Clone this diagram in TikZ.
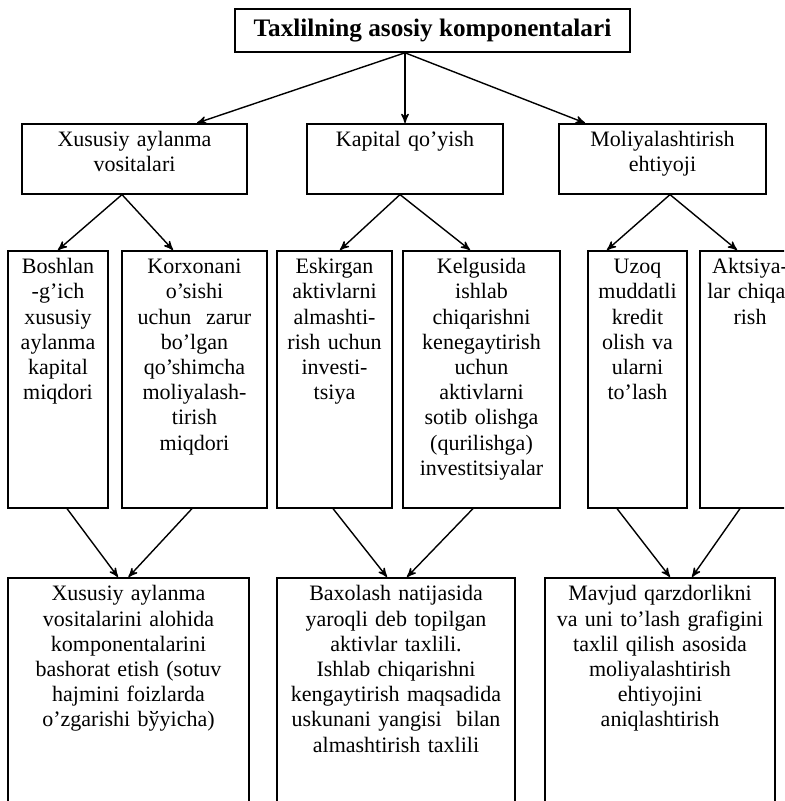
\documentclass[tikz,border=0pt]{standalone}
\usepackage{fontspec}
\setmainfont{Liberation Serif}
\usetikzlibrary{arrows}

\begin{document}
\begin{tikzpicture}[x=0.5pt,y=-0.5pt,->,>=stealth',line width=0.7pt,
	headnode/.style={rectangle,draw,line width=0.8pt,minimum width=197.5pt,minimum height=21.5pt,inner sep=2pt,font=\bfseries\fontsize{12.6}{14}\selectfont},
	boxnode/.style={rectangle,draw,line width=0.8pt,anchor=north,align=center,inner xsep=2pt,inner ysep=4pt,text height=7.5pt,font=\fontsize{11}{12.6}\selectfont},
	midnode/.style={boxnode,text depth=19.5pt},
	tallnode/.style={boxnode,text depth=113pt},
	lownode/.style={boxnode,text depth=126pt}]
	
	\useasboundingbox (0,0) rectangle (784,801);
	\clip (0,0) rectangle (784,801);
	
	\node [headnode] (0) at (432.5, 30.5) {Taxlilning asosiy komponentalari};
	
	\node [midnode, text width=108.5pt] (1) at (134.5, 123) {Xususiy aylanma\\ vositalari};
	\node [midnode, text width=94pt] (2) at (405, 123) {Kapital qo’yish};
	\node [midnode, text width=99.5pt] (3) at (662.5, 123) {Moliyalashtirish\\ ehtiyoji};
	
	\node [tallnode, text width=46pt] (4) at (58, 250) {Boshlan\\ -g’ich\\ xususiy\\ aylanma\\ kapital\\ miqdori};
	\node [tallnode, text width=68.5pt] (5) at (194.5, 250) {Korxonani\\ o’sishi\\ uchun~~zarur\\ bo’lgan\\ qo’shimcha\\ moliyalash-\\ tirish\\ miqdori};
	\node [tallnode, text width=53.5pt] (6) at (334.5, 250) {Eskirgan\\ aktivlarni\\ almashti-\\ rish uchun\\ investi-\\ tsiya};
	\node [tallnode, text width=74.5pt] (7) at (481.5, 250) {Kelgusida\\ ishlab\\ chiqarishni\\ kenegaytirish\\ uchun\\ aktivlarni\\ sotib olishga\\ (qurilishga)\\ investitsiyalar};
	\node [tallnode, text width=45.5pt] (8) at (637.5, 250) {Uzoq\\ muddatli\\ kredit\\ olish va\\ ularni\\ to’lash};
	\node [tallnode, text width=46pt] (9) at (750, 250) {Aktsiya-\\ lar chiqa-\\ rish};
	
	\node [lownode, text width=116.5pt] (10) at (128.5, 577) {Xususiy aylanma\\ vositalarini alohida\\ komponentalarini\\ bashorat etish (sotuv\\ hajmini foizlarda\\ o’zgarishi bўyicha)};
	\node [lownode, text width=115pt] (11) at (396, 577) {Baxolash natijasida\\ yaroqli deb topilgan\\ aktivlar taxlili.\\ Ishlab chiqarishni\\ kengaytirish maqsadida\\ uskunani yangisi~~bilan\\ almashtirish taxlili};
	\node [lownode, text width=111pt] (12) at (660, 577) {Mavjud qarzdorlikni\\ va uni to’lash grafigini\\ taxlil qilish asosida\\ moliyalashtirish\\ ehtiyojini\\ aniqlashtirish};
	
	\draw ([xshift=-13.75pt]0.south) to ([xshift=31.25pt]1.north);
	\draw ([xshift=-13.75pt]0.south) to (2.north);
	\draw ([xshift=-13.75pt]0.south) to ([xshift=-38.75pt]3.north);
	
	\draw ([xshift=-6.25pt]1.south) to (4.north);
	\draw ([xshift=-6.25pt]1.south) to ([xshift=-10.75pt]5.north);
	\draw ([xshift=-2.5pt]2.south) to ([xshift=2.75pt]6.north);
	\draw ([xshift=-2.5pt]2.south) to ([xshift=-5.75pt]7.north);
	\draw ([xshift=3.75pt]3.south) to ([xshift=-15.25pt]8.north);
	\draw ([xshift=3.75pt]3.south) to ([xshift=-6.5pt]9.north);
	
	\draw ([xshift=4.5pt]4.south) to ([xshift=-5.25pt]10.north);
	\draw ([xshift=-1.25pt]5.south) to (10.north);
	\draw ([xshift=-0.75pt]6.south) to ([xshift=-4.5pt]11.north);
	\draw ([xshift=-4.25pt]7.south) to ([xshift=5.5pt]11.north);
	\draw ([xshift=-10.25pt]8.south) to ([xshift=5pt]12.north);
	\draw ([xshift=-5pt]9.south) to ([xshift=16pt]12.north);
\end{tikzpicture}
\end{document}
